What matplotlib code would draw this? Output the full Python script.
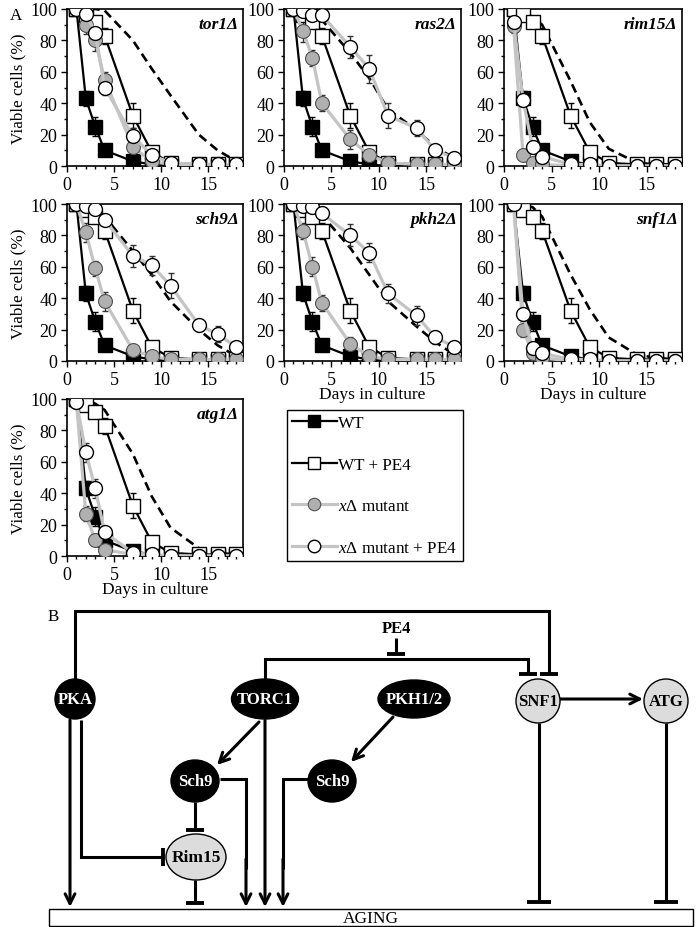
import numpy as np
import matplotlib
matplotlib.use('Agg')
import matplotlib.pyplot as plt
from matplotlib.patches import Ellipse, Rectangle
from matplotlib.ticker import MultipleLocator

plt.rcParams['font.family'] = ['Liberation Serif', 'DejaVu Serif']
plt.rcParams['mathtext.fontset'] = 'custom'
plt.rcParams['mathtext.rm'] = 'Liberation Serif'
plt.rcParams['mathtext.it'] = 'Liberation Serif:italic'
plt.rcParams['mathtext.bf'] = 'Liberation Serif:bold'

# ---------------- data ----------------
days = [1, 2, 3, 4, 7, 9, 11, 14, 16, 18]
wt = [100, 43, 25, 10, 3, 1, 0, 0, 0, 0]
wt_err = [0, 5, 6, 2, 1, 0.5, 0, 0, 0, 0]
wt_pe4 = [100, 96, 92, 83, 32, 9, 2, 1, 1, 1]
wt_pe4_err = [0, 2, 3, 5, 8, 3, 1, 0, 0, 0]

panel_names = ['tor1Δ', 'ras2Δ', 'rim15Δ', 'sch9Δ', 'pkh2Δ', 'snf1Δ', 'atg1Δ']

tor1_mut = [100, 90, 80, 55, 12, 3, 1, 1, 1, 1]
tor1_mut_err = [0, 6, 7, 5, 3, 1, 0, 0, 0, 0]
tor1_mut_pe4 = [100, 97, 85, 50, 19, 7, 2, 1, 1, 1]
tor1_mut_pe4_err = [0, 3, 5, 5, 5, 3, 1, 0, 0, 0]
tor1_ref = [100, 100, 100, 99, 80, 62, 45, 20, 10, 3]

ras2_mut = [100, 86, 69, 40, 17, 7, 2, 1, 1, 1]
ras2_mut_err = [0, 7, 5, 5, 6, 2, 1, 0, 0, 0]
ras2_mut_pe4 = [100, 99, 96, 96, 76, 62, 32, 24, 10, 5]
ras2_mut_pe4_err = [0, 1, 2, 2, 7, 9, 8, 5, 3, 1]
ras2_ref = [100, 99, 97, 93, 72, 56, 36, 23, 12, 5]

rim15_mut = [89, 7, 2, 1, 0, 0, 0, 0, 0, 0]
rim15_mut_err = [4, 2, 1, 0, 0, 0, 0, 0, 0, 0]
rim15_mut_pe4 = [92, 42, 12, 6, 1, 1, 0, 0, 0, 0]
rim15_mut_pe4_err = [2, 4, 3, 1, 0, 0, 0, 0, 0, 0]
rim15_ref = [100, 98, 95, 90, 54, 28, 11, 2, 1, 1]

sch9_mut = [100, 82, 59, 38, 7, 3, 1, 1, 1, 1]
sch9_mut_err = [0, 6, 5, 6, 2, 1, 0, 0, 0, 0]
sch9_mut_pe4 = [100, 99, 97, 90, 67, 61, 48, 23, 17, 9]
sch9_mut_pe4_err = [0, 1, 2, 3, 7, 6, 8, 4, 5, 2]
sch9_ref = [100, 99, 96, 92, 70, 55, 38, 20, 10, 3]

pkh2_mut = [100, 83, 60, 37, 11, 3, 1, 1, 1, 1]
pkh2_mut_err = [0, 5, 6, 5, 4, 1, 0, 0, 0, 0]
pkh2_mut_pe4 = [100, 99, 98, 94, 80, 69, 43, 29, 15, 9]
pkh2_mut_pe4_err = [0, 1, 1, 3, 7, 6, 6, 6, 4, 2]
pkh2_ref = [100, 99, 97, 93, 72, 55, 38, 22, 12, 4]

snf1_mut = [100, 20, 5, 2, 0, 0, 0, 0, 0, 0]
snf1_mut_err = [0, 5, 2, 1, 0, 0, 0, 0, 0, 0]
snf1_mut_pe4 = [100, 30, 8, 5, 1, 1, 0, 0, 0, 0]
snf1_mut_pe4_err = [0, 3, 2, 1, 0, 0, 0, 0, 0, 0]
snf1_ref = [100, 99, 98, 92, 55, 33, 15, 4, 2, 1]

atg1_mut = [98, 27, 10, 4, 1, 0, 0, 0, 0, 0]
atg1_mut_err = [2, 5, 3, 1, 0, 0, 0, 0, 0, 0]
atg1_mut_pe4 = [98, 66, 43, 15, 2, 1, 0, 0, 0, 0]
atg1_mut_pe4_err = [2, 6, 6, 2, 1, 0, 0, 0, 0, 0]
atg1_ref = [100, 99, 97, 93, 65, 38, 18, 5, 2, 1]

mut_series = [tor1_mut, ras2_mut, rim15_mut, sch9_mut, pkh2_mut, snf1_mut, atg1_mut]
mut_errs = [tor1_mut_err, ras2_mut_err, rim15_mut_err, sch9_mut_err, pkh2_mut_err, snf1_mut_err, atg1_mut_err]
pe4_series = [tor1_mut_pe4, ras2_mut_pe4, rim15_mut_pe4, sch9_mut_pe4, pkh2_mut_pe4, snf1_mut_pe4, atg1_mut_pe4]
pe4_errs = [tor1_mut_pe4_err, ras2_mut_pe4_err, rim15_mut_pe4_err, sch9_mut_pe4_err, pkh2_mut_pe4_err, snf1_mut_pe4_err, atg1_mut_pe4_err]
ref_series = [tor1_ref, ras2_ref, rim15_ref, sch9_ref, pkh2_ref, snf1_ref, atg1_ref]

legend_labels = ['WT', 'WT + PE4', r'$\mathit{xΔ}$ mutant', r'$\mathit{xΔ}$ mutant + PE4']

# ---------------- layout ----------------
W, H = 696, 928
fig = plt.figure(figsize=(W / 100, H / 100), dpi=100)
fig.patch.set_facecolor('white')


def rect(l, t, r, b):
    return [l / W, 1 - b / H, (r - l) / W, (b - t) / H]


cols = [(67, 243), (284, 461), (504, 682)]
rows = [(10, 167), (205, 362), (400, 557)]
positions = [(0, 0), (0, 1), (0, 2), (1, 0), (1, 1), (1, 2), (2, 0)]

TFS = 13      # tick labels
LFS = 12.3    # axis labels / legend
GREY_LINE = '#c4c4c4'
GREY_FILL = '#b0b0b0'


def errs(ax, y, e, color, z):
    xs = [d for d, v in zip(days, e) if v > 0]
    ys = [yy for yy, v in zip(y, e) if v > 0]
    es = [v for v in e if v > 0]
    if xs:
        ax.errorbar(xs, ys, yerr=es, fmt='none', ecolor=color, elinewidth=1.0,
                    capsize=2.5, capthick=1.0, zorder=z)


handles = None
for i, name in enumerate(panel_names):
    r, c = positions[i]
    ax = fig.add_axes(rect(cols[c][0], rows[r][0], cols[c][1], rows[r][1]))
    ax.plot(days, ref_series[i], color='black', lw=1.9, ls=(0, (3.4, 2.0)), zorder=2)
    errs(ax, wt, wt_err, 'black', 2.5)
    errs(ax, wt_pe4, wt_pe4_err, 'black', 2.5)
    errs(ax, mut_series[i], mut_errs[i], '#333333', 2.6)
    errs(ax, pe4_series[i], pe4_errs[i], '#333333', 2.6)
    h1, = ax.plot(days, wt, color='black', lw=1.6, marker='s', ms=9.5,
                  mfc='black', mec='black', mew=1, zorder=3)
    h2, = ax.plot(days, wt_pe4, color='black', lw=1.6, marker='s', ms=9.5,
                  mfc='white', mec='black', mew=1, zorder=3)
    h3, = ax.plot(days, mut_series[i], color=GREY_LINE, lw=2.3, marker='o', ms=10,
                  mfc=GREY_FILL, mec='#505050', mew=0.8, zorder=4)
    h4, = ax.plot(days, pe4_series[i], color=GREY_LINE, lw=2.3, marker='o', ms=10,
                  mfc='white', mec='black', mew=1, zorder=4)
    handles = [h1, h2, h3, h4]
    ax.set_xlim(0, 18.7)
    ax.set_ylim(0, 100)
    ax.set_xticks([0, 5, 10, 15])
    ax.xaxis.set_minor_locator(MultipleLocator(1))
    ax.set_yticks([0, 20, 40, 60, 80, 100])
    ax.yaxis.set_minor_locator(MultipleLocator(10))
    ax.tick_params(which='major', direction='out', length=4, width=1, labelsize=TFS, pad=3)
    ax.tick_params(which='minor', direction='out', length=2.5, width=1)
    for s in ax.spines.values():
        s.set_linewidth(1.2)
        s.set_color('black')
    ax.text(0.975, 0.955, name, transform=ax.transAxes, ha='right', va='top',
            fontsize=12.5, fontweight='bold', fontstyle='italic', zorder=6)
    if c == 0:
        ax.set_ylabel('Viable cells (%)', fontsize=LFS, labelpad=3)
    if i in (4, 5, 6):
        ax.set_xlabel('Days in culture', fontsize=12.5, labelpad=-1)

fig.text(10 / W, 1 - 16 / H, 'A', fontsize=LFS, ha='left', va='center')

leg = fig.legend(handles, legend_labels, loc='upper left',
                 bbox_to_anchor=(287 / W, 1 - 411 / H), fontsize=LFS,
                 frameon=True, fancybox=False, edgecolor='black', framealpha=1,
                 handlelength=2.6, handletextpad=0.1, labelspacing=1.5,
                 borderpad=0.3, borderaxespad=0, markerscale=0.9)
leg.get_frame().set_linewidth(1.0)

# ---------------- diagram (panel B) ----------------
axd = fig.add_axes([0, 0, 1, (H - 600) / H])
axd.set_xlim(0, W)
axd.set_ylim(H, 600)
axd.axis('off')

LW = 2.2


def poly(pts):
    xs, ys = zip(*pts)
    axd.plot(xs, ys, color='black', lw=LW, solid_capstyle='butt',
             solid_joinstyle='miter', zorder=2)


def arrow_to(start, end):
    axd.annotate('', xy=end, xytext=start,
                 arrowprops=dict(arrowstyle='->,head_length=0.7,head_width=0.35',
                                 lw=LW, color='black', shrinkA=0, shrinkB=0),
                 zorder=2)


def tbar_h(x, y, half=9):
    axd.plot([x - half, x + half], [y, y], color='black', lw=LW + 0.6,
             solid_capstyle='butt', zorder=2)


def tbar_v(x, y, half=9):
    axd.plot([x, x], [y - half, y + half], color='black', lw=LW + 0.6,
             solid_capstyle='butt', zorder=2)


def node(x, y, w, h, label, dark=True, fs=12):
    e = Ellipse((x, y), w, h, facecolor='black' if dark else '#dcdcdc',
                edgecolor='black', lw=1.0, zorder=3)
    axd.add_patch(e)
    axd.text(x, y, label, ha='center', va='center', fontsize=fs, fontweight='bold',
             color='white' if dark else 'black', zorder=4)


# nodes
node(75, 700, 40, 40, 'PKA')
node(265, 700, 67, 40, 'TORC1')
node(414, 700, 72, 38, 'PKH1/2')
node(538, 702, 44, 44, 'SNF1', dark=False)
node(666, 702, 44, 44, 'ATG', dark=False)
node(195, 782, 48, 42, 'Sch9')
node(332, 782, 48, 42, 'Sch9')
node(196, 858, 60, 46, 'Rim15', dark=False, fs=12.5)

# AGING bar
axd.add_patch(Rectangle((49, 910), 644, 17, facecolor='white', edgecolor='black',
                        lw=1.0, zorder=1))
axd.text(371, 919.5, 'AGING', ha='center', va='center', fontsize=12.5, zorder=4)

axd.text(48, 617, 'B', ha='left', va='center', fontsize=LFS)

# PKA -> top line -> SNF1 inhibition
poly([(75, 680), (75, 612), (549, 612), (549, 675)])
tbar_h(549, 675)
# TORC1 -> SNF1 inhibition
poly([(265, 680), (265, 660), (528, 660), (528, 675)])
tbar_h(528, 675)
# PE4 inhibits the TORC1 line
axd.text(396, 629, 'PE4', ha='center', va='center', fontsize=12, fontweight='bold')
poly([(396, 639), (396, 655)])
tbar_h(396, 655)

# PKA down arrows
arrow_to((70, 721), (70, 908))
poly([(81, 721), (81, 858), (163, 858)])
tbar_v(163, 858)
# TORC1 -> aging
arrow_to((265, 721), (265, 908))
# TORC1 -> Sch9
arrow_to((259, 723), (217, 766))
# Sch9 (left) -> aging
poly([(220, 780), (246, 780), (246, 870)])
arrow_to((246, 860), (246, 908))
# Sch9 -| Rim15
poly([(195, 803), (195, 831)])
tbar_h(195, 831)
# Rim15 -| aging
poly([(195, 881), (195, 904)])
tbar_h(195, 904)
# PKH1/2 -> Sch9 right
arrow_to((393, 718), (351, 763))
# Sch9 right -> aging
poly([(308, 780), (283, 780), (283, 870)])
arrow_to((283, 860), (283, 908))
# SNF1 -> ATG
arrow_to((560, 700), (643, 700))
# SNF1 -| aging
poly([(539, 724), (539, 903)])
tbar_h(539, 903, half=12)
# ATG -| aging
poly([(666, 724), (666, 903)])
tbar_h(666, 903, half=12)

fig.savefig('out.png', dpi=100, facecolor='white')
